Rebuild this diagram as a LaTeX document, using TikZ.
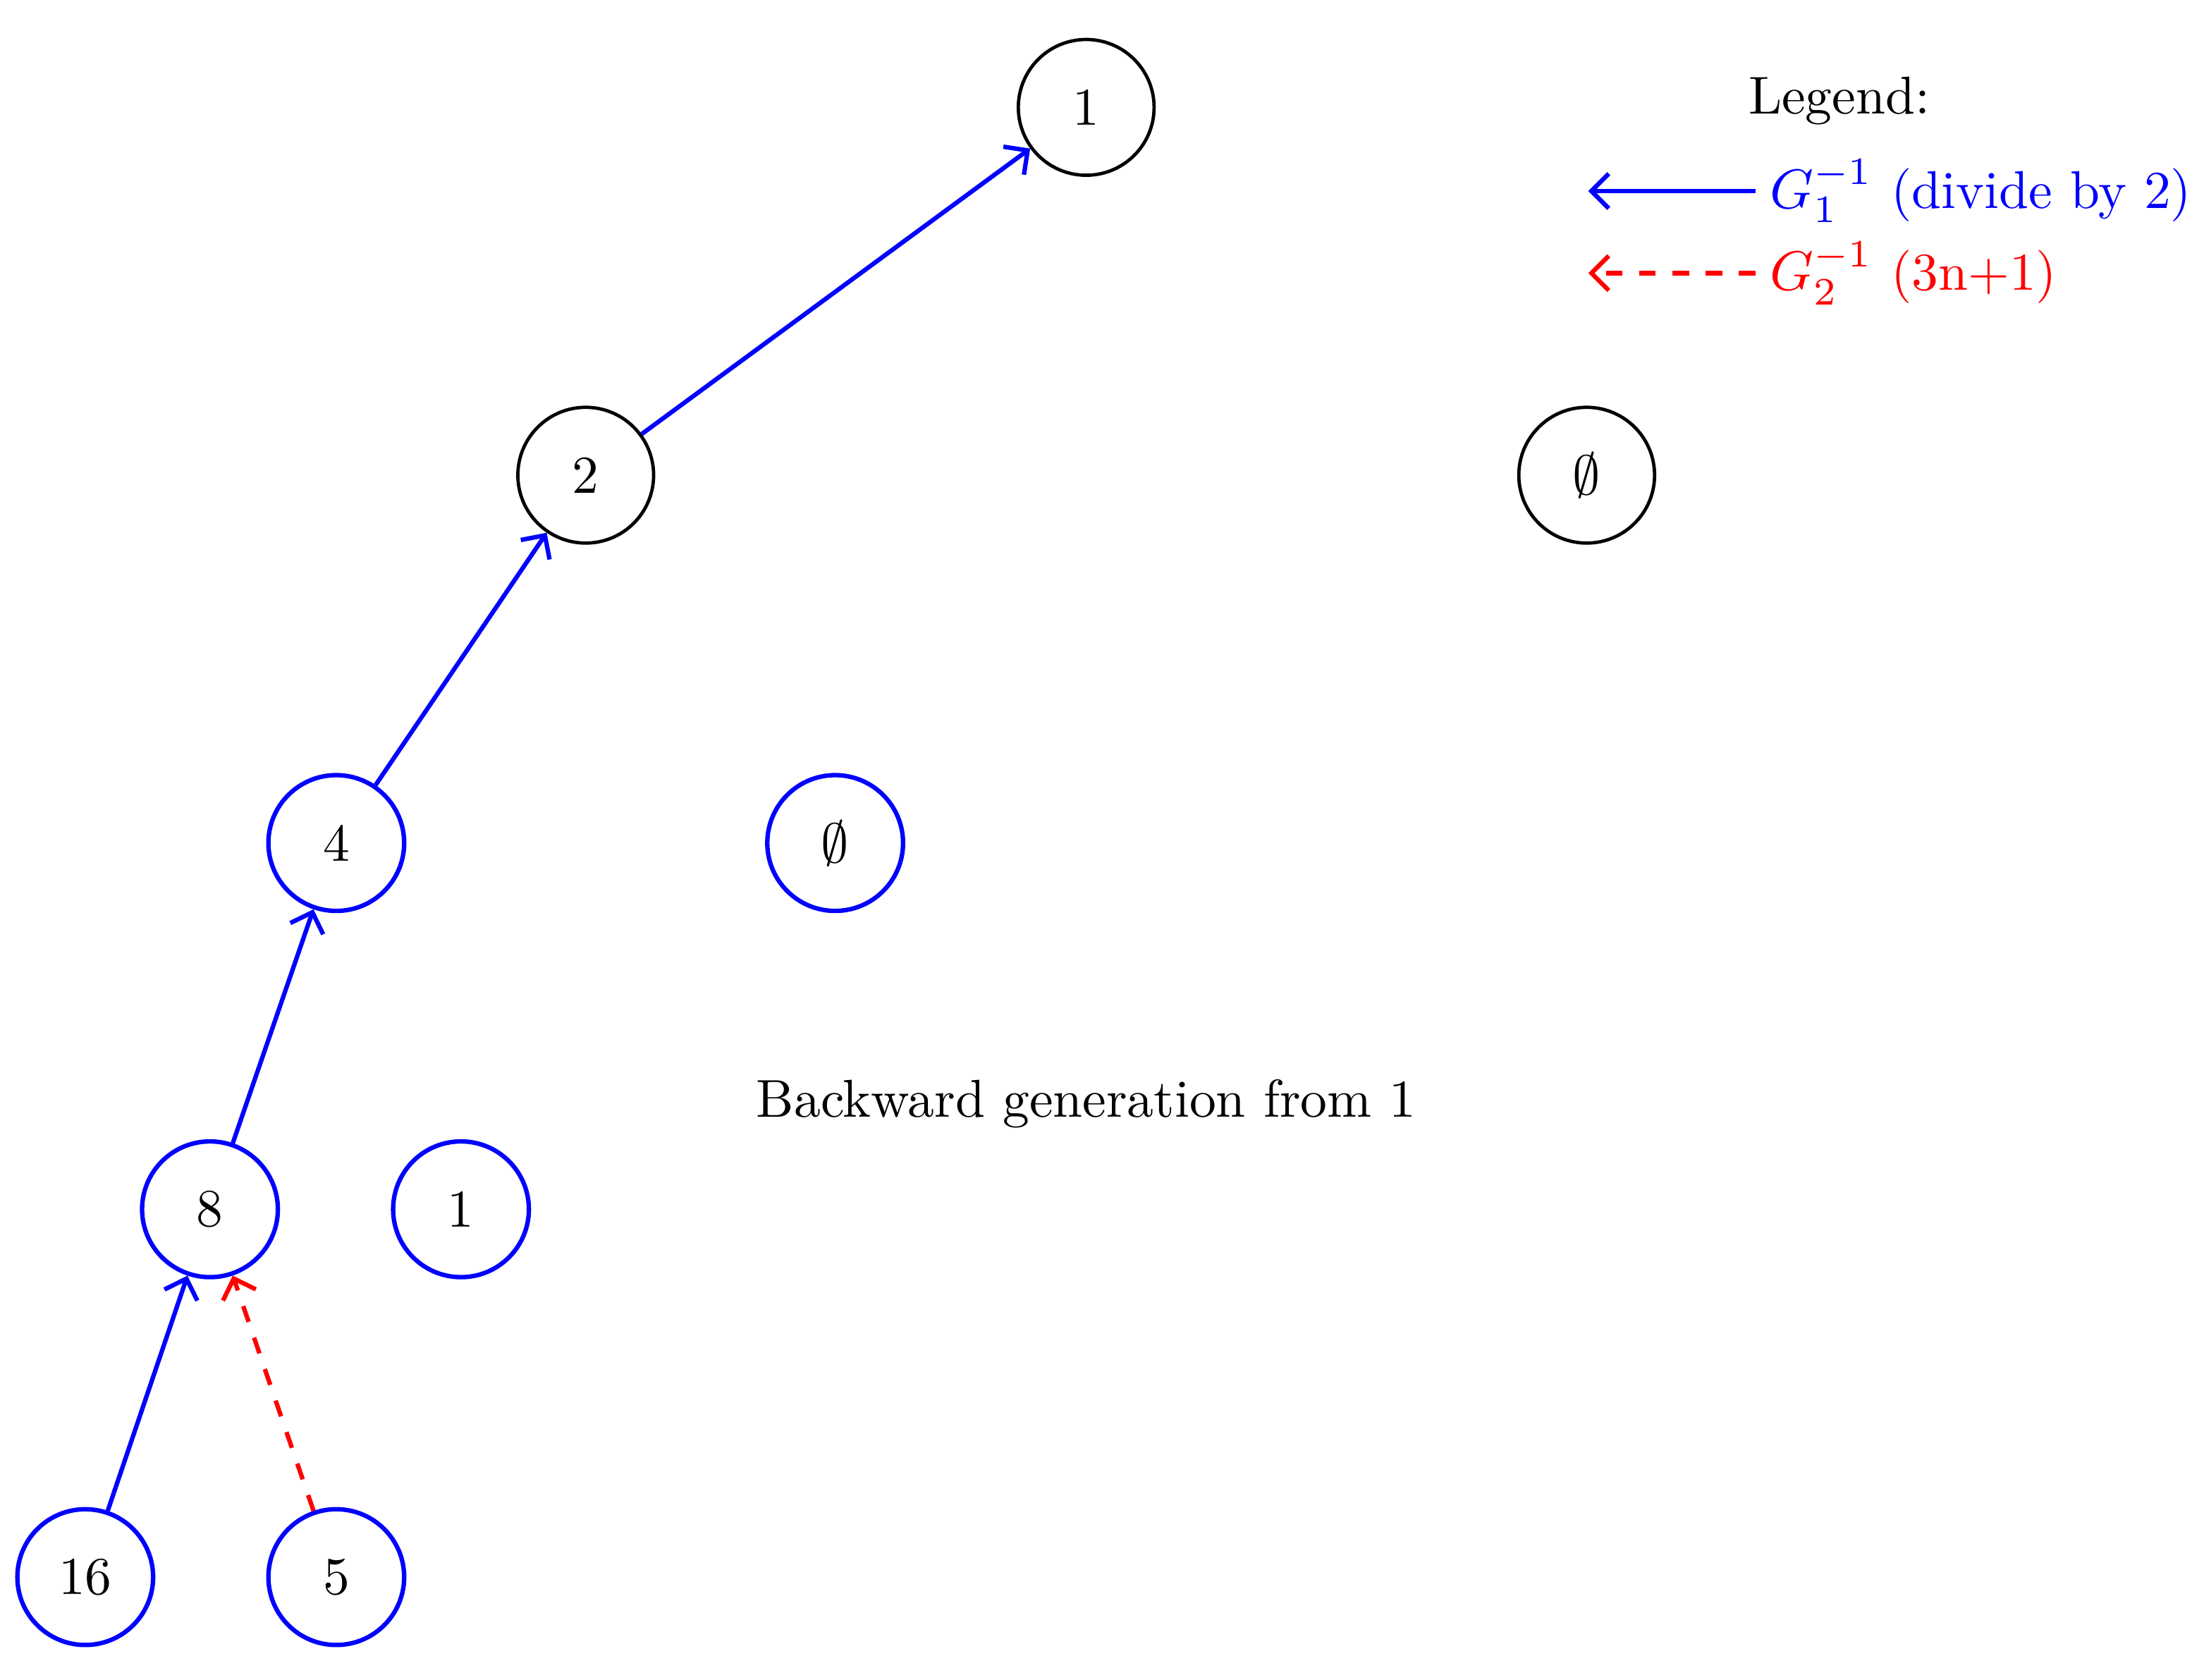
\documentclass[tikz,border=0pt]{standalone}
\usepackage{amsmath}
\usepackage{amssymb}
\usetikzlibrary{arrows.meta, positioning}

\begin{document}
\begin{tikzpicture}[
                every node/.style={font=\fontsize{9.6}{11}\selectfont},
                state/.style={circle, draw=black, semithick, minimum size=0.86cm, inner sep=0pt},
                newstate/.style={state, draw=blue, thick},
                half/.style={thick, blue, -{Straight Barb[length=1.1mm]}},
                triple/.style={thick, red, dashed, -{Straight Barb[length=1.1mm]}}
            ]
                \useasboundingbox (0,0) rectangle (13.96,-10.64);

                % Nodes
                \node (one) [state] at (6.88,-0.68) {1};
                \node (two) [state] at (3.71,-3.01) {2};
                \node (emptyA) [state] at (10.05,-3.01) {$\emptyset$};
                \node (four) [newstate] at (2.13,-5.34) {4};
                \node (emptyB) [newstate] at (5.29,-5.34) {$\emptyset$};
                \node (eight) [newstate] at (1.33,-7.66) {8};
                \node (oneB) [newstate] at (2.92,-7.66) {1};
                \node (sixteen) [newstate] at (0.54,-9.99) {16};
                \node (five) [newstate] at (2.13,-9.99) {5};
                \node (caption) at (6.88,-6.99) {Backward generation from 1};

                % Arrows
                \draw [half] (two) -- (one);
                \draw [half] (four) -- (two);
                \draw [half] (eight) -- (four);
                \draw [half] (sixteen) -- (eight);
                \draw [triple] (five) -- (eight);

                % Legend
                \node (legend) at (11.65,-0.64) {Legend:};
                \coordinate (l1a) at (11.12,-1.21);
                \coordinate (l1b) at (10.06,-1.21);
                \coordinate (l2a) at (11.12,-1.73);
                \coordinate (l2b) at (10.06,-1.73);
                \draw [half] (l1a) -- (l1b);
                \draw [triple] (l2a) -- (l2b);
                \node (lab1) [right=0.05cm of l1a, blue, inner sep=1pt] {$G_1^{-1}$ (divide by 2)};
                \node (lab2) [right=0.05cm of l2a, red, inner sep=1pt] {$G_2^{-1}$ (3n+1)};
            \end{tikzpicture}
\end{document}
